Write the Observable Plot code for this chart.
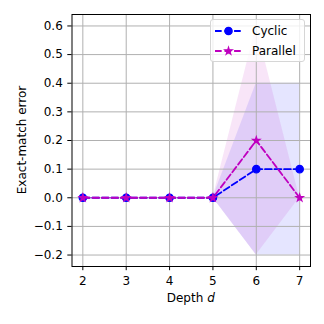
<!DOCTYPE html>
<html><head><meta charset="utf-8">
<script src="https://cdn.jsdelivr.net/npm/d3@7"></script>
<script src="https://cdn.jsdelivr.net/npm/@observablehq/plot@0.6"></script>
<style>
body{margin:0;background:#fff}
#wrap{position:relative;width:324px;height:324px;font-family:"DejaVu Sans",sans-serif}
#legend{position:absolute;left:210px;top:19px;width:95px;height:43px;box-sizing:border-box;background:rgba(255,255,255,0.8);border:1px solid #d6d6d6;border-radius:3px}
</style>
</head><body><div id="wrap"></div>
<script>
const depths = [2, 3, 4, 5, 6, 7];
const cyclicMean = [0, 0, 0, 0, 0.1, 0.1];
const cyclicLow = [0, 0, 0, 0, -0.2, -0.2];
const cyclicHigh = [0, 0, 0, 0, 0.4, 0.4];
const parallelMean = [0, 0, 0, 0, 0.2, 0];
const parallelLow = [0, 0, 0, 0, -0.2, 0];
const parallelHigh = [0, 0, 0, 0, 0.6, 0];
const xTicks = [2, 3, 4, 5, 6, 7];
const yTicks = [-0.2, -0.1, 0, 0.1, 0.2, 0.3, 0.4, 0.5, 0.6];
const seriesNames = ["Cyclic", "Parallel"];
const seriesColors = ["#0000ff", "#bf00bf"];
const seriesSymbols = ["circle", "star"];

const cyc = depths.map((d, i) => ({d, m: cyclicMean[i], lo: cyclicLow[i], hi: cyclicHigh[i]}));
const par = depths.map((d, i) => ({d, m: parallelMean[i], lo: parallelLow[i], hi: parallelHigh[i]}));
const blue = seriesColors[0], mag = seriesColors[1];
const dash = "6.66,2.88";
const lw = 1.8;

const plot = Plot.plot({
  width: 324, height: 324,
  marginLeft: 71.5, marginRight: 14, marginTop: 14, marginBottom: 58,
  style: {fontFamily: "DejaVu Sans", fontSize: "12px", color: "black", background: "white"},
  x: {domain: [1.75, 7.25]},
  y: {domain: [-0.24, 0.64]},
  marks: [
    Plot.areaY(cyc, {x: "d", y1: "lo", y2: "hi", fill: blue, fillOpacity: 0.1}),
    Plot.areaY(par, {x: "d", y1: "lo", y2: "hi", fill: mag, fillOpacity: 0.1}),
    Plot.gridX(xTicks, {stroke: "#b0b0b0", strokeOpacity: 1, strokeWidth: 1}),
    Plot.gridY(yTicks, {stroke: "#b0b0b0", strokeOpacity: 1, strokeWidth: 1}),
    Plot.lineY(cyc, {x: "d", y: "m", stroke: blue, strokeWidth: lw, strokeDasharray: dash}),
    Plot.dot(cyc, {x: "d", y: "m", r: 3.7, fill: blue, stroke: blue, strokeWidth: 1.2, symbol: "circle"}),
    Plot.lineY(par, {x: "d", y: "m", stroke: mag, strokeWidth: lw, strokeDasharray: dash}),
    Plot.dot(par, {x: "d", y: "m", r: 2.3, fill: mag, stroke: mag, strokeWidth: 1.2, symbol: "star"}),
    Plot.frame({stroke: "black", strokeWidth: 1}),
    Plot.axisX({ticks: xTicks, tickSize: 4.2, tickPadding: 6, label: null, tickFormat: d3.format("d"), strokeWidth: 1}),
    Plot.axisY({ticks: yTicks, tickSize: 4.2, tickPadding: 5, label: null, tickFormat: d3.format(".1f"), strokeWidth: 1})
  ]
});

const wrap = document.getElementById("wrap");
wrap.appendChild(plot);
const svg = d3.select(plot);
const xr = plot.scale("x").range, yr = plot.scale("y").range;
const cx = (xr[0] + xr[1]) / 2, cy = (yr[0] + yr[1]) / 2;
const xl = svg.append("text").attr("x", cx).attr("y", 301.7).attr("text-anchor", "middle")
  .attr("font-size", 12).attr("fill", "black");
xl.append("tspan").text("Depth ");
xl.append("tspan").attr("font-style", "italic").text("d");
svg.append("text").attr("transform", `translate(21.7,${cy}) rotate(-90)`).attr("dy", "0.35em").attr("text-anchor", "middle")
  .attr("font-size", 12).attr("fill", "black").text("Exact-match error");

// legend
const leg = d3.select(wrap).append("div").attr("id", "legend");
const ls = leg.append("svg").attr("width", 93).attr("height", 41).style("position", "absolute").style("left", "0").style("top", "0");
seriesNames.forEach((name, i) => {
  const y = 11 + i * 20;
  ls.append("line").attr("x1", 4).attr("x2", 31).attr("y1", y).attr("y2", y)
    .attr("stroke", seriesColors[i]).attr("stroke-width", lw).attr("stroke-dasharray", dash);
  const sym = seriesSymbols[i] === "circle" ? d3.symbolCircle : d3.symbolStar;
  const size = seriesSymbols[i] === "circle" ? Math.PI * 3.7 * 3.7 : Math.PI * 2.3 * 2.3;
  ls.append("path").attr("d", d3.symbol(sym, size)()).attr("transform", `translate(17.5,${y})`)
    .attr("fill", seriesColors[i]).attr("stroke", seriesColors[i]).attr("stroke-width", 1.2);
  ls.append("text").attr("x", 41).attr("y", y).attr("dy", "0.35em").attr("font-size", 12)
    .attr("font-family", "DejaVu Sans").attr("fill", "black").text(name);
});
</script>
</body></html>
